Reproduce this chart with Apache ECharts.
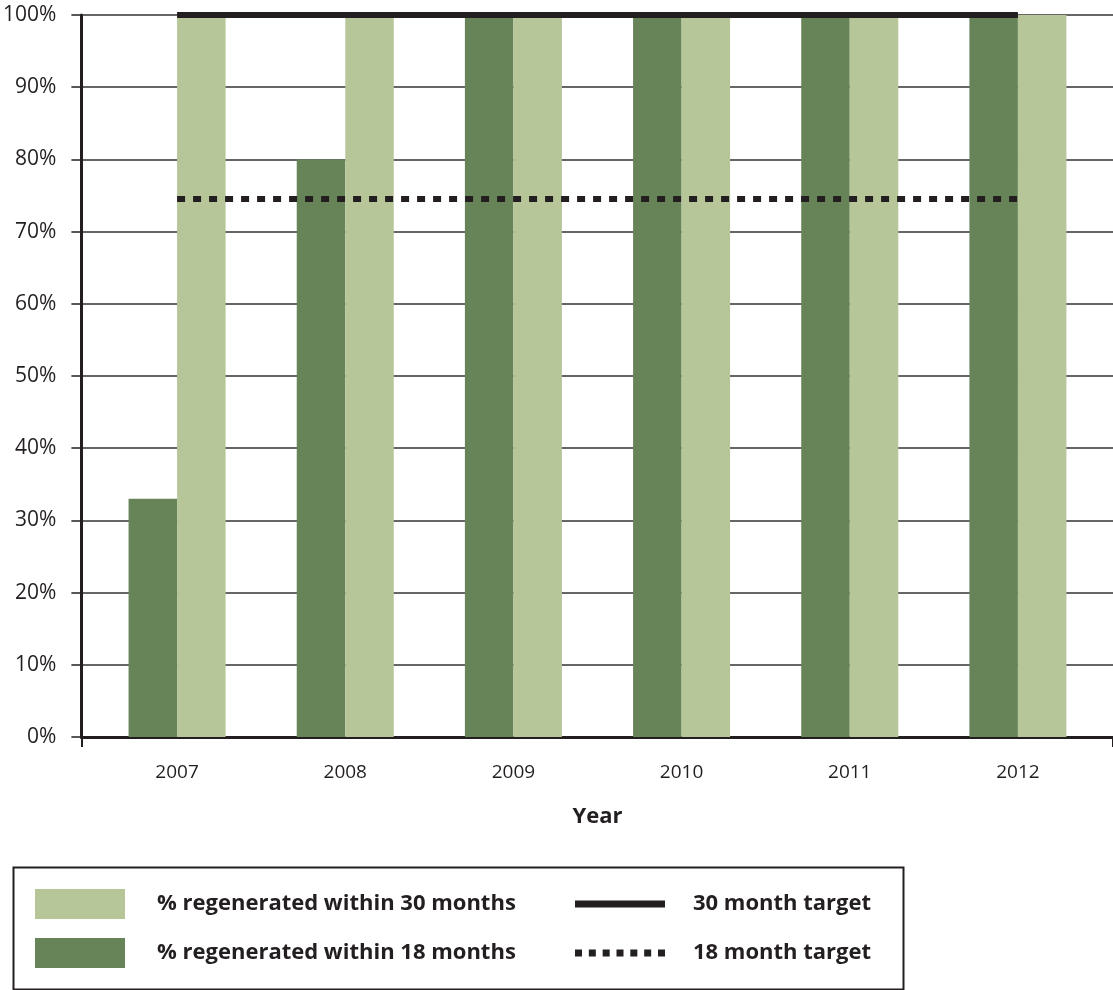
<!DOCTYPE html>
<html>
<head>
<meta charset="utf-8">
<title>Regeneration rates</title>
<script src="https://cdn.jsdelivr.net/npm/echarts@6/dist/echarts.min.js"></script>
<style>
  html, body { margin: 0; padding: 0; background: #fff; }
  #chart { width: 1113px; height: 990px; }
</style>
</head>
<body>
<div id="chart"></div>
<script>
// Years on the category axis
const years = ['2007', '2008', '2009', '2010', '2011', '2012'];
// Percentage of sites regenerated
const within18 = [33, 80, 100, 100, 100, 100];
const within30 = [100, 100, 100, 100, 100, 100];
// Target levels (%)
const target30 = [100, 100, 100, 100, 100, 100];
const target18 = [74.5, 74.5, 74.5, 74.5, 74.5, 74.5];
// Y axis ticks
const yMin = 0, yMax = 100, yStep = 10;

const ink = '#231f20';
const darkGreen = '#678458';
const lightGreen = '#b6c699';
const font = 'Open Sans';

// legend key shapes for the two target lines (90 x 7 box)
const solidKey = 'path://M0,0H90V7H0Z';
let dotKey = 'path://';
for (let i = 0; i < 7; i++) {
  const x = (i * 83 / 6).toFixed(2);
  dotKey += `M${x},0h7v7h-7Z`;
}

const chart = echarts.init(document.getElementById('chart'), null, { renderer: 'canvas' });

const plotTop = 15, plotBottom = 253;
const legendText = { fontSize: 22, fontWeight: 'bold', color: ink, fontFamily: font, lineHeight: 30 };

chart.setOption({
  animation: false,
  textStyle: { fontFamily: font, color: ink },
  grid: [
    // frame grid: y axis, gridlines and baseline
    { left: 81, right: -8, top: plotTop, bottom: plotBottom, containLabel: false },
    // bar grid
    { left: 93, width: 1009, top: plotTop, bottom: plotBottom, containLabel: false }
  ],
  xAxis: [
    {
      gridIndex: 0, type: 'value', min: 0, max: 1, interval: 1,
      axisLine: { show: true, lineStyle: { color: ink, width: 3 } },
      axisTick: { show: true, length: 10, lineStyle: { color: ink, width: 2 } },
      axisLabel: { show: false }, splitLine: { show: false }
    },
    {
      gridIndex: 1, type: 'category', data: years,
      axisLine: { show: false }, axisTick: { show: false },
      axisLabel: { fontSize: 19, color: ink, margin: 26, fontFamily: font },
      name: 'Year', nameLocation: 'middle', nameGap: 69,
      nameTextStyle: { fontSize: 22, fontWeight: 'bold', color: ink, fontFamily: font }
    }
  ],
  yAxis: [
    {
      gridIndex: 0, type: 'value', min: yMin, max: yMax, interval: yStep,
      axisLine: { show: true, lineStyle: { color: ink, width: 3 } },
      axisTick: { show: true, length: 10, lineStyle: { color: ink, width: 1.5 } },
      axisLabel: { formatter: '{value}%', fontSize: 21, color: ink, margin: 25, fontFamily: font },
      splitLine: { show: true, lineStyle: { color: '#333', width: 1.5 } }
    },
    {
      gridIndex: 1, type: 'value', min: yMin, max: yMax, interval: yStep,
      show: false
    }
  ],
  legend: [
    {
      orient: 'vertical', left: 35, top: 889, padding: 0,
      itemWidth: 90, itemHeight: 30, itemGap: 19,
      icon: 'rect',
      data: ['% regenerated within 30 months', '% regenerated within 18 months'],
      textStyle: Object.assign({ padding: [0, 0, 0, 27] }, legendText),
      selectedMode: false
    },
    {
      orient: 'vertical', left: 575, top: 889, padding: 0,
      itemWidth: 90, itemHeight: 7, itemGap: 19,
      data: [
        { name: '30 month target', icon: solidKey },
        { name: '18 month target', icon: dotKey }
      ],
      textStyle: Object.assign({ padding: [0, 0, 0, 23] }, legendText),
      selectedMode: false
    }
  ],
  graphic: [
    {
      type: 'rect', left: 11, top: 865,
      shape: { width: 890, height: 122 },
      style: { fill: 'none', stroke: ink, lineWidth: 2 }
    }
  ],
  series: [
    {
      name: '% regenerated within 18 months', type: 'bar', xAxisIndex: 1, yAxisIndex: 1,
      data: within18, barGap: '0%', barCategoryGap: '42.3%',
      itemStyle: { color: darkGreen }
    },
    {
      name: '% regenerated within 30 months', type: 'bar', xAxisIndex: 1, yAxisIndex: 1,
      data: within30, barGap: '0%', barCategoryGap: '42.3%',
      itemStyle: { color: lightGreen }
    },
    {
      name: '30 month target', type: 'line', xAxisIndex: 1, yAxisIndex: 1,
      data: target30, symbol: 'none', z: 5,
      lineStyle: { color: ink, width: 6, cap: 'butt' },
      itemStyle: { color: ink }
    },
    {
      name: '18 month target', type: 'line', xAxisIndex: 1, yAxisIndex: 1,
      data: target18, symbol: 'none', z: 5,
      lineStyle: { color: ink, width: 6, type: [8, 8], cap: 'butt' },
      itemStyle: { color: ink }
    }
  ]
});
</script>
</body>
</html>
